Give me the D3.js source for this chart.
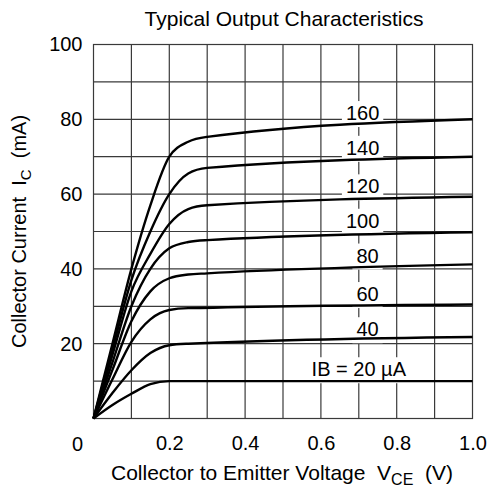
<!DOCTYPE html>
<html>
<head>
<meta charset="utf-8">
<script src="https://cdn.jsdelivr.net/npm/d3@7"></script>
<style>
  body { margin: 0; background: #fff; }
  text { font-family: "Liberation Sans", Arial, Helvetica, sans-serif; fill: #000; white-space: pre; }
</style>
</head>
<body>
<div id="canvas"></div>
<script>
// Chart data

let xTicks = [0.2, 0.4, 0.6, 0.8, 1.0];
let yTicks = [20, 40, 60, 80, 100];
let gridX = [0.1, 0.2, 0.3, 0.4, 0.5, 0.6, 0.7, 0.8, 0.9];
let gridY = [10, 20, 30, 40, 50, 60, 70, 80, 90];

// base currents (uA) and their collector current curves [VCE, IC]
let ibValues = [20, 40, 60, 80, 100, 120, 140, 160];
let ib20  = [[0,0],[0.05,3.6],[0.1,6.6],[0.15,9.2],[0.2,10],[0.3,10],[1.0,10]];
let ib40  = [[0,0],[0.05,6.8],[0.1,12.9],[0.15,17.5],[0.2,19.6],[0.25,20],[1.0,21.8]];
let ib60  = [[0,0],[0.05,10.5],[0.1,20.5],[0.15,26.5],[0.2,29],[0.25,29.5],[1.0,30.5]];
let ib80  = [[0,0],[0.05,13],[0.1,26],[0.15,34],[0.2,37.5],[0.25,38.5],[0.3,38.8],[1.0,41.2]];
let ib100 = [[0,0],[0.05,15],[0.1,30],[0.15,40],[0.2,45.5],[0.25,47.2],[0.3,47.7],[1.0,49.8]];
let ib120 = [[0,0],[0.05,17],[0.1,34],[0.15,44],[0.2,52],[0.25,56],[0.3,57],[1.0,59.3]];
let ib140 = [[0,0],[0.05,18.5],[0.1,37],[0.15,50],[0.2,60],[0.25,65.5],[0.3,67],[1.0,70]];
let ib160 = [[0,0],[0.05,20],[0.1,40],[0.15,57],[0.2,70],[0.25,74],[0.3,75.3],[1.0,80]];

// curve labels: text and anchor point [VCE, IC] of the text baseline centre
let labelTexts = ["IB = 20 \u00B5A", "40", "60", "80", "100", "120", "140", "160"];
let labelAt = [[0.70,11.3],[0.723,22],[0.723,31.4],[0.723,41.7],[0.71,51],[0.71,60.2],[0.71,70.5],[0.71,79.8]];

let curves = [ib20, ib40, ib60, ib80, ib100, ib120, ib140, ib160];

// Setting dimensions

let W = 489, H = 490;
let margin = {top: 44.5, right: 16.5, bottom: 71.5, left: 93.5};
let width = W - margin.left - margin.right;
let height = H - margin.top - margin.bottom;

let svg = d3.select("#canvas")
    .append("svg")
    .attr("width", W)
    .attr("height", H);

let g = svg.append("g")
    .attr("transform", "translate(" + margin.left + ", " + margin.top + ")");

let xScale = d3.scaleLinear().domain([0, 1]).range([0, width]);
let yScale = d3.scaleLinear().domain([0, 100]).range([height, 0]);

let gridColor = "#3a3a3a";

// Grid

g.selectAll(".gx").data(gridX).enter().append("line")
    .attr("x1", d => xScale(d)).attr("x2", d => xScale(d))
    .attr("y1", 0).attr("y2", height)
    .style("stroke", gridColor).style("stroke-width", 1.2);

g.selectAll(".gy").data(gridY).enter().append("line")
    .attr("y1", d => yScale(d)).attr("y2", d => yScale(d))
    .attr("x1", 0).attr("x2", width)
    .style("stroke", gridColor).style("stroke-width", 1.2);

g.append("rect")
    .attr("width", width).attr("height", height)
    .style("fill", "none").style("stroke", gridColor).style("stroke-width", 1.2);

// Label backgrounds (break the grid behind the labels)

let labels = labelTexts.map((t, i) => ({text: t, v: labelAt[i][0], c: labelAt[i][1]}));

let lab = g.selectAll(".lab").data(labels).enter().append("g");

lab.append("text")
    .attr("x", d => xScale(d.v))
    .attr("y", d => yScale(d.c))
    .style("font-size", "20px")
    .style("text-anchor", "middle")
    .text(d => d.text)
    .each(function () {
        let b = this.getBBox();
        d3.select(this.parentNode).insert("rect", "text")
            .attr("x", b.x - 4).attr("y", b.y - 1)
            .attr("width", b.width + 8).attr("height", b.height + 4)
            .style("fill", "#fff");
    });

// Curves

let line = d3.line()
    .x(d => xScale(d[0]))
    .y(d => yScale(d[1]))
    .curve(d3.curveMonotoneX);

g.selectAll(".curve").data(curves).enter().append("path")
    .attr("d", line)
    .style("fill", "none")
    .style("stroke", "#000")
    .style("stroke-width", 2.4);

// Axes (labels only)

let xAxis = g.append("g")
    .attr("transform", "translate(0, " + height + ")")
    .call(d3.axisBottom(xScale).tickValues(xTicks).tickFormat(d3.format(".1f")).tickSize(0).tickPadding(17));
xAxis.select(".domain").remove();
xAxis.selectAll("text").style("font-size", "20px").style("font-family", null);

let yAxis = g.append("g")
    .call(d3.axisLeft(yScale).tickValues(yTicks).tickSize(0).tickPadding(11));
yAxis.select(".domain").remove();
yAxis.selectAll("text").style("font-size", "20px").style("font-family", null);

g.append("text")
    .attr("x", -16)
    .attr("y", height + 32)
    .style("font-size", "20px")
    .style("text-anchor", "middle")
    .text("0");

// Titles

svg.append("text")
    .attr("x", 284)
    .attr("y", 26)
    .style("font-size", "21px")
    .style("text-anchor", "middle")
    .text("Typical Output Characteristics");

let xl = svg.append("text")
    .attr("x", margin.left + width / 2 - 1)
    .attr("y", 480)
    .style("font-size", "21px")
    .style("text-anchor", "middle");
xl.append("tspan").text("Collector to Emitter Voltage  V");
xl.append("tspan").attr("dy", 5).style("font-size", "16px").text("CE");
xl.append("tspan").attr("dy", -5).text("  (V)");

let yl = svg.append("text")
    .attr("transform", "translate(26, " + (margin.top + height / 2) + ") rotate(-90)")
    .style("font-size", "20px")
    .style("text-anchor", "middle");
yl.append("tspan").text("Collector Current  I");
yl.append("tspan").attr("dy", 5).style("font-size", "15px").text("C");
yl.append("tspan").attr("dy", -5).text("  (mA)");
</script>
</body>
</html>
